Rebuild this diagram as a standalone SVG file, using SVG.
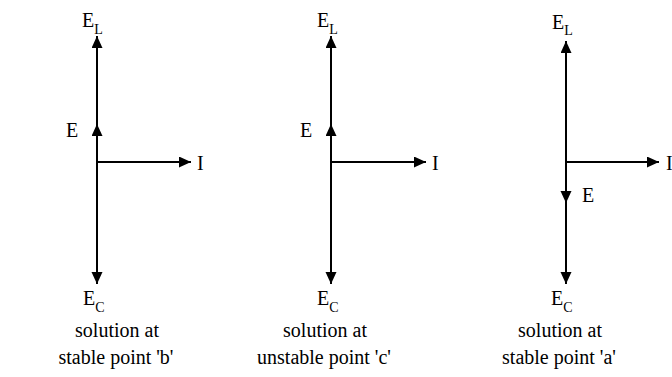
<svg xmlns="http://www.w3.org/2000/svg" width="672" height="377" viewBox="0 0 672 377">
<style>
text{font-family:'Liberation Serif','DejaVu Serif',serif;font-size:20px;fill:#000}
.sub{font-size:14px}
.cap{text-anchor:middle}
line{stroke:#000;stroke-width:2;fill:none}
</style>
<defs>
<marker id="ah" markerUnits="userSpaceOnUse" markerWidth="13" markerHeight="12" refX="12" refY="5.5" orient="auto">
<path d="M0,0 L12,5.5 L0,11 z" fill="#000"/>
</marker>
</defs>
<g id="connectors">
<line x1="97" y1="162" x2="97" y2="36" marker-end="url(#ah)"/>
<line x1="97" y1="162" x2="97" y2="124" marker-end="url(#ah)"/>
<line x1="97" y1="162" x2="97" y2="284" marker-end="url(#ah)"/>
<line x1="97" y1="162" x2="191" y2="162" marker-end="url(#ah)"/>
<line x1="331" y1="162" x2="331" y2="36" marker-end="url(#ah)"/>
<line x1="331" y1="162" x2="331" y2="124" marker-end="url(#ah)"/>
<line x1="331" y1="162" x2="331" y2="284" marker-end="url(#ah)"/>
<line x1="331" y1="162" x2="426" y2="162" marker-end="url(#ah)"/>
<line x1="566" y1="162" x2="566" y2="41" marker-end="url(#ah)"/>
<line x1="566" y1="162" x2="566" y2="203" marker-end="url(#ah)"/>
<line x1="566" y1="162" x2="566" y2="284" marker-end="url(#ah)"/>
<line x1="566" y1="162" x2="659" y2="162" marker-end="url(#ah)"/>
</g>
<g id="diagram-b" font-family="Liberation Serif, serif">
<text x="82" y="27">E<tspan class="sub" dy="7">L</tspan></text>
<text x="66" y="137">E</text>
<text x="197" y="170">I</text>
<text x="83" y="305">E<tspan class="sub" dy="7">C</tspan></text>
<text class="cap" x="117" y="337">solution at</text>
<text class="cap" x="116" y="364">stable point 'b'</text>
</g>
<g id="diagram-c" font-family="Liberation Serif, serif">
<text x="317" y="27">E<tspan class="sub" dy="7">L</tspan></text>
<text x="300" y="137">E</text>
<text x="432" y="170">I</text>
<text x="317" y="305">E<tspan class="sub" dy="7">C</tspan></text>
<text class="cap" x="325" y="337">solution at</text>
<text class="cap" x="324" y="364">unstable point 'c'</text>
</g>
<g id="diagram-a" font-family="Liberation Serif, serif">
<text x="552" y="29">E<tspan class="sub" dy="6">L</tspan></text>
<text x="582" y="202">E</text>
<text x="666" y="170">I</text>
<text x="551" y="305">E<tspan class="sub" dy="7">C</tspan></text>
<text class="cap" x="560" y="337">solution at</text>
<text class="cap" x="559" y="364">stable point 'a'</text>
</g>
</svg>
